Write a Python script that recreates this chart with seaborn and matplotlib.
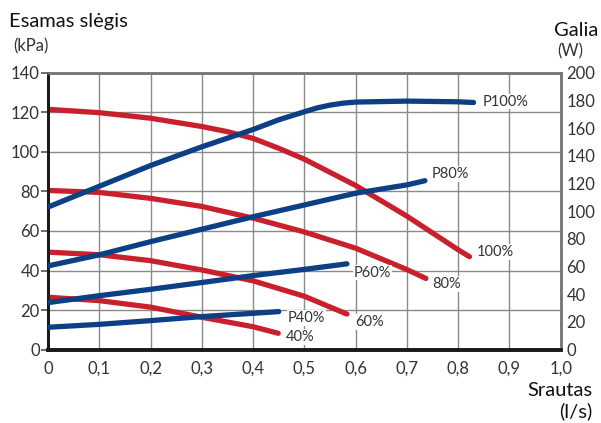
import numpy as np
import pandas as pd
import seaborn as sns
import matplotlib
matplotlib.use("Agg")
import matplotlib.pyplot as plt
from matplotlib.ticker import FuncFormatter

# ============================================
# DATA
# ============================================

# pressure curves (kPa, left axis)
x_p100 = [0, 0.1, 0.2, 0.3, 0.35, 0.4, 0.45, 0.5, 0.6, 0.7, 0.75, 0.8, 0.822]
p100 = [121.5, 119.8, 117, 112.8, 110.2, 106.8, 101.8, 96.3, 83, 67.5, 59, 50.5, 47]

x_p80 = [0, 0.1, 0.2, 0.3, 0.4, 0.5, 0.6, 0.7, 0.737]
p80 = [80.5, 79.5, 76.5, 72.4, 66.5, 59.5, 51.3, 40.5, 36]

x_p60 = [0, 0.1, 0.2, 0.3, 0.4, 0.5, 0.583]
p60 = [49.3, 48, 45, 40.3, 34.8, 27, 18]

x_p40 = [0, 0.1, 0.2, 0.3, 0.4, 0.449]
p40 = [26.5, 24.8, 21.5, 16.4, 11.6, 8.3]

# power curves (W, right axis)
x_w100 = [0, 0.1, 0.2, 0.3, 0.4, 0.45, 0.5, 0.525, 0.55, 0.575, 0.6, 0.7, 0.8, 0.83]
w100 = [103, 118, 133, 146.5, 159, 166, 171.8, 174.6, 176.6, 178, 178.8, 179.5, 179, 178.5]

x_w80 = [0, 0.1, 0.2, 0.3, 0.4, 0.5, 0.6, 0.7, 0.735]
w80 = [60.5, 68.5, 78, 87, 96, 104.5, 113, 119, 122]

x_w60 = [0, 0.1, 0.2, 0.3, 0.4, 0.5, 0.583]
w60 = [34, 39, 43.6, 48.5, 53.5, 58, 62]

x_w40 = [0, 0.1, 0.2, 0.3, 0.4, 0.45]
w40 = [16.2, 18.3, 21, 23.9, 26.3, 27.5]

pressure_labels = ["100%", "80%", "60%", "40%"]
power_labels = ["P100%", "P80%", "P60%", "P40%"]

x_ticks = [0, 0.1, 0.2, 0.3, 0.4, 0.5, 0.6, 0.7, 0.8, 0.9, 1.0]
left_ticks = [0, 20, 40, 60, 80, 100, 120, 140]
right_ticks = [0, 20, 40, 60, 80, 100, 120, 140, 160, 180, 200]

RED = "#c8202c"
BLUE = "#0c3f84"
TXT = "#333333"

# ============================================
# PLOT
# ============================================

sns.set_style("white")
plt.rcParams['font.family'] = ['Lato', 'DejaVu Sans']

fig = plt.figure(figsize=(6.01, 4.23), dpi=100)
ax = fig.add_axes([0.0799, 0.1733, 0.8531, 0.6548])
ax2 = ax.twinx()

ax.set_xlim(0, 1.0)
ax.set_ylim(0, 140)
ax2.set_ylim(0, 200)

ax.grid(True, color="#8a8a8a", linewidth=1.0)
ax.set_axisbelow(True)

lw = 3.8
for xs, ys in [(x_p100, p100), (x_p80, p80), (x_p60, p60), (x_p40, p40)]:
    sns.lineplot(x=xs, y=ys, ax=ax, color=RED, linewidth=lw,
                 solid_capstyle="round", solid_joinstyle="round", zorder=3)
for xs, ys in [(x_w100, w100), (x_w80, w80), (x_w60, w60), (x_w40, w40)]:
    sns.lineplot(x=xs, y=ys, ax=ax2, color=BLUE, linewidth=lw,
                 solid_capstyle="round", solid_joinstyle="round", zorder=3)

# curve labels (kPa coordinates)
label_pos = {
    "100%": (0.836, 49.3), "80%": (0.75, 33.2), "60%": (0.6, 13.9), "40%": (0.464, 6.3),
    "P100%": (0.848, 125.4), "P80%": (0.748, 88.9), "P60%": (0.597, 39), "P40%": (0.467, 16.2),
}
for name in pressure_labels + power_labels:
    lx, ly = label_pos[name]
    ax.text(lx, ly, name, fontsize=10.5, color=TXT, ha="left", va="center", zorder=5,
            bbox=dict(facecolor="white", edgecolor="none", pad=0.6))

ax.set_xticks(x_ticks)
ax.xaxis.set_major_formatter(FuncFormatter(lambda v, p: "0" if v == 0 else f"{v:.1f}".replace(".", ",")))
ax.set_yticks(left_ticks)
ax2.set_yticks(right_ticks)

ax.tick_params(axis="x", length=0, labelsize=12, colors=TXT, pad=8)
ax.tick_params(axis="y", length=5, width=1.2, color="#555555", labelsize=12,
               labelcolor=TXT, pad=1)
ax2.tick_params(axis="y", length=0, labelsize=12, labelcolor=TXT, pad=4)

ax.set_xlabel("")
ax.set_ylabel("")
ax2.set_ylabel("")

for a in (ax, ax2):
    a.spines["left"].set_color("#1a1a1a")
    a.spines["left"].set_linewidth(2.0)
    a.spines["bottom"].set_color("#1a1a1a")
    a.spines["bottom"].set_linewidth(2.6)
    a.spines["top"].set_color("#777777")
    a.spines["top"].set_linewidth(1.8)
    a.spines["right"].set_color("#777777")
    a.spines["right"].set_linewidth(1.8)

# axis titles
fig.text(9 / 601, 1 - 22 / 423, "Esamas slėgis", fontsize=14.5, color="#111111",
         ha="left", va="center")
fig.text(13 / 601, 1 - 46 / 423, "(kPa)", fontsize=12, color=TXT, ha="left", va="center")
fig.text(598 / 601, 1 - 31 / 423, "Galia", fontsize=14.5, color="#111111",
         ha="right", va="center")
fig.text(583 / 601, 1 - 51 / 423, "(W)", fontsize=12, color=TXT, ha="right", va="center")
fig.text(592 / 601, 1 - 390 / 423, "Srautas", fontsize=14.5, color="#111111",
         ha="right", va="center")
fig.text(592 / 601, 1 - 411 / 423, "(l/s)", fontsize=14.5, color="#111111",
         ha="right", va="center")

fig.savefig("out.png", dpi=100)
